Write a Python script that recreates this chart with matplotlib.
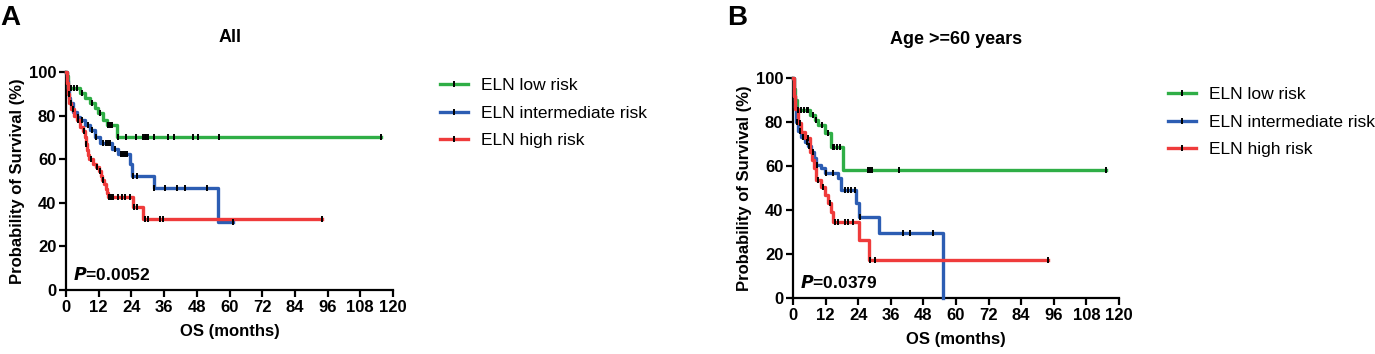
import numpy as np
import matplotlib.pyplot as plt
from matplotlib.lines import Line2D

plt.rcParams['font.family'] = ['Liberation Sans', 'DejaVu Sans']

labels = ['ELN low risk', 'ELN intermediate risk', 'ELN high risk']
colors = ['#2fae46', '#2c5db3', '#ef3b3b']
month_ticks = list(range(0, 121, 12))
surv_ticks = [0, 20, 40, 60, 80, 100]

# Panel A: all patients. step times (months) and survival (%) after each step
a_low_t = [0, 0.3, 0.6, 0.9, 5.1, 7.0, 8.8, 10.5, 11.9, 13.7, 14.9, 18.6]
a_low_s = [100, 98, 95.5, 92.5, 90.2, 88, 85.6, 83.3, 81, 78, 75.7, 70.2]
a_low_end = 115.5
a_low_cens = [2, 3, 4, 6, 9.5, 12.5, 15.5, 16, 16.5, 17, 19.2, 21.9, 25.7, 28.4, 28.9, 29.5,
              30.2, 32.4, 37.5, 39.7, 46.7, 48.5, 56.1, 115.5]

a_int_t = [0, 0.3, 0.6, 1.0, 1.5, 2.7, 3.9, 5.1, 7.0, 8.8, 10.6, 12.5, 17.0, 19.2, 23.5,
           24.2, 32.4, 55.9]
a_int_s = [100, 96, 92, 88, 85.6, 81.8, 79.5, 78, 75.7, 73.4, 70.3, 67.3, 64.5, 62.5, 58,
           52.5, 46.7, 31.3]
a_int_end = 61.2
a_int_cens = [2, 4.5, 6, 8, 9.5, 11, 13.5, 14.5, 15.5, 16.2, 18, 20, 20.8, 21.5, 22.3, 24.6,
              26.2, 32.4, 36.3, 40.8, 43.7, 51.9, 61.2]

a_high_t = [0, 0.3, 0.7, 1.2, 2, 3, 4, 5, 6.2, 6.8, 7.2, 7.7, 8.2, 8.6, 10, 11, 12, 12.7,
            13.3, 13.9, 14.5, 15, 15.5, 24.5, 28.1]
a_high_s = [100, 95, 90, 86, 83, 80, 78, 75, 73, 70, 67, 64, 62, 60, 58, 56.5, 54.5, 52.5,
            50.5, 48.5, 46.5, 44.5, 42.5, 38.2, 32.4]
a_high_end = 93.8
a_high_cens = [1, 2.5, 4.5, 6.5, 7.5, 9.2, 11.5, 12.3, 13.6, 15.8, 16.4, 17.2, 19.2, 20.4,
               21.6, 23.5, 24.8, 25.9, 29, 30.2, 34.5, 35.7, 93.8]

# Panel B: age >= 60 years
b_low_t = [0, 0.4, 0.8, 1.5, 6.1, 8.0, 9.2, 11.7, 14.1, 18.4]
b_low_s = [100, 95, 90, 85.5, 83, 81, 78.6, 74.8, 68.8, 58.2]
b_low_end = 115.3
b_low_cens = [2, 3, 4, 5, 5.5, 7.5, 8.5, 10.5, 13, 14.6, 15.2, 16.2, 17.2, 27.6, 28.3, 28.9,
              39, 115.3]

b_int_t = [0, 0.3, 0.6, 1.2, 2, 3.1, 4.3, 5.5, 6.8, 7.7, 8.6, 10.4, 11.7, 16.6, 17.8, 23.3,
           24.2, 31.6, 55.2]
b_int_s = [100, 92, 87, 80, 76, 73.3, 71, 69, 66.5, 63.5, 60.5, 59, 56.7, 54.4, 49.1, 43,
           37, 29.4, 0]
b_int_end = 55.2
b_int_cens = [1.5, 2.5, 3.5, 5, 6, 7.2, 9, 12.3, 14.7, 19, 20.2, 21.5, 22.7, 24.5, 40.5,
              42.9, 51.5]

b_high_t = [0, 0.4, 0.8, 1.8, 3.1, 4.3, 6.4, 7.1, 7.7, 8.6, 10.4, 11.7, 12.9, 14.1, 14.7,
            24.2, 28.0]
b_high_s = [100, 92, 86, 79.4, 75.6, 72.6, 66.5, 62.7, 59, 53.6, 50.6, 46.8, 43, 39.2, 34.7,
            26.4, 17.3]
b_high_end = 93.9
b_high_cens = [2.5, 5.5, 9.2, 11, 13.5, 15.3, 16.6, 19, 20.2, 22.1, 28.2, 30.1, 93.9]


def km_curve(ax, t, s, end, cens, color):
    x = list(t) + [end]
    y = list(s) + [s[-1]]
    ax.step(x, y, where='post', color=color, lw=2.4, clip_on=False, zorder=3)
    idx = np.searchsorted(t, cens, side='right') - 1
    ax.plot(cens, np.array(s)[idx], ls='none', marker='|', color='k', ms=5, mew=1.4,
            clip_on=False, zorder=4)


def style_axes(ax, pval):
    ax.set_xlim(0, 120)
    ax.set_ylim(0, 100)
    ax.set_xticks(month_ticks)
    ax.set_yticks(surv_ticks)
    for side in ['top', 'right']:
        ax.spines[side].set_visible(False)
    for side in ['left', 'bottom']:
        ax.spines[side].set_linewidth(1.6)
    ax.tick_params(width=1.6, length=5, labelsize=12, pad=2)
    for lab in ax.get_xticklabels() + ax.get_yticklabels():
        lab.set_fontweight('bold')
    ax.set_xlabel('OS (months)', fontsize=12, fontweight='bold', labelpad=7)
    ax.set_ylabel('Probability of Survival (%)', fontsize=12, fontweight='bold', labelpad=3)
    ax.text(0.02, 0.03, r'$\bfit{P}$' + '=' + pval, transform=ax.transAxes, fontsize=12.5,
            fontweight='bold', va='bottom', ha='left')


def legend_for(fig, x, y):
    handles = [Line2D([], [], color=c, lw=2.4, marker='|', mec='k', ms=5, mew=1.4)
               for c in colors]
    fig.legend(handles, labels, loc='upper left', bbox_to_anchor=(x, y), frameon=False,
               fontsize=12.5, handlelength=1.6, handletextpad=0.75, labelspacing=0.72,
               borderpad=0, borderaxespad=0, numpoints=1)


def main():
    fig = plt.figure(figsize=(13.75, 3.54), dpi=100)
    W, H = 1375, 354
    ax_a = fig.add_axes([66 / W, 1 - 290 / H, (393 - 66) / W, (290 - 72) / H])
    ax_b = fig.add_axes([793 / W, 1 - 298 / H, (1119 - 793) / W, (298 - 78) / H])

    km_curve(ax_a, a_low_t, a_low_s, a_low_end, a_low_cens, colors[0])
    km_curve(ax_a, a_int_t, a_int_s, a_int_end, a_int_cens, colors[1])
    km_curve(ax_a, a_high_t, a_high_s, a_high_end, a_high_cens, colors[2])
    style_axes(ax_a, '0.0052')

    km_curve(ax_b, b_low_t, b_low_s, b_low_end, b_low_cens, colors[0])
    km_curve(ax_b, b_int_t, b_int_s, b_int_end, b_int_cens, colors[1])
    km_curve(ax_b, b_high_t, b_high_s, b_high_end, b_high_cens, colors[2])
    style_axes(ax_b, '0.0379')

    fig.text(230 / W, 1 - 38 / H, 'All', fontsize=13, fontweight='bold', ha='center',
             va='center')
    fig.text(956 / W, 1 - 40 / H, 'Age >=60 years', fontsize=13, fontweight='bold',
             ha='center', va='center')

    legend_for(fig, 440 / W, 1 - 78 / H)
    legend_for(fig, 1168 / W, 1 - 87 / H)

    fig.text(0 / W, 1 - 5 / H, 'A', fontsize=20, fontweight='bold', va='top', ha='left')
    fig.text(727 / W, 1 - 5 / H, 'B', fontsize=20, fontweight='bold', va='top', ha='left')

    fig.savefig('out.png', dpi=100)


if __name__ == '__main__':
    main()
